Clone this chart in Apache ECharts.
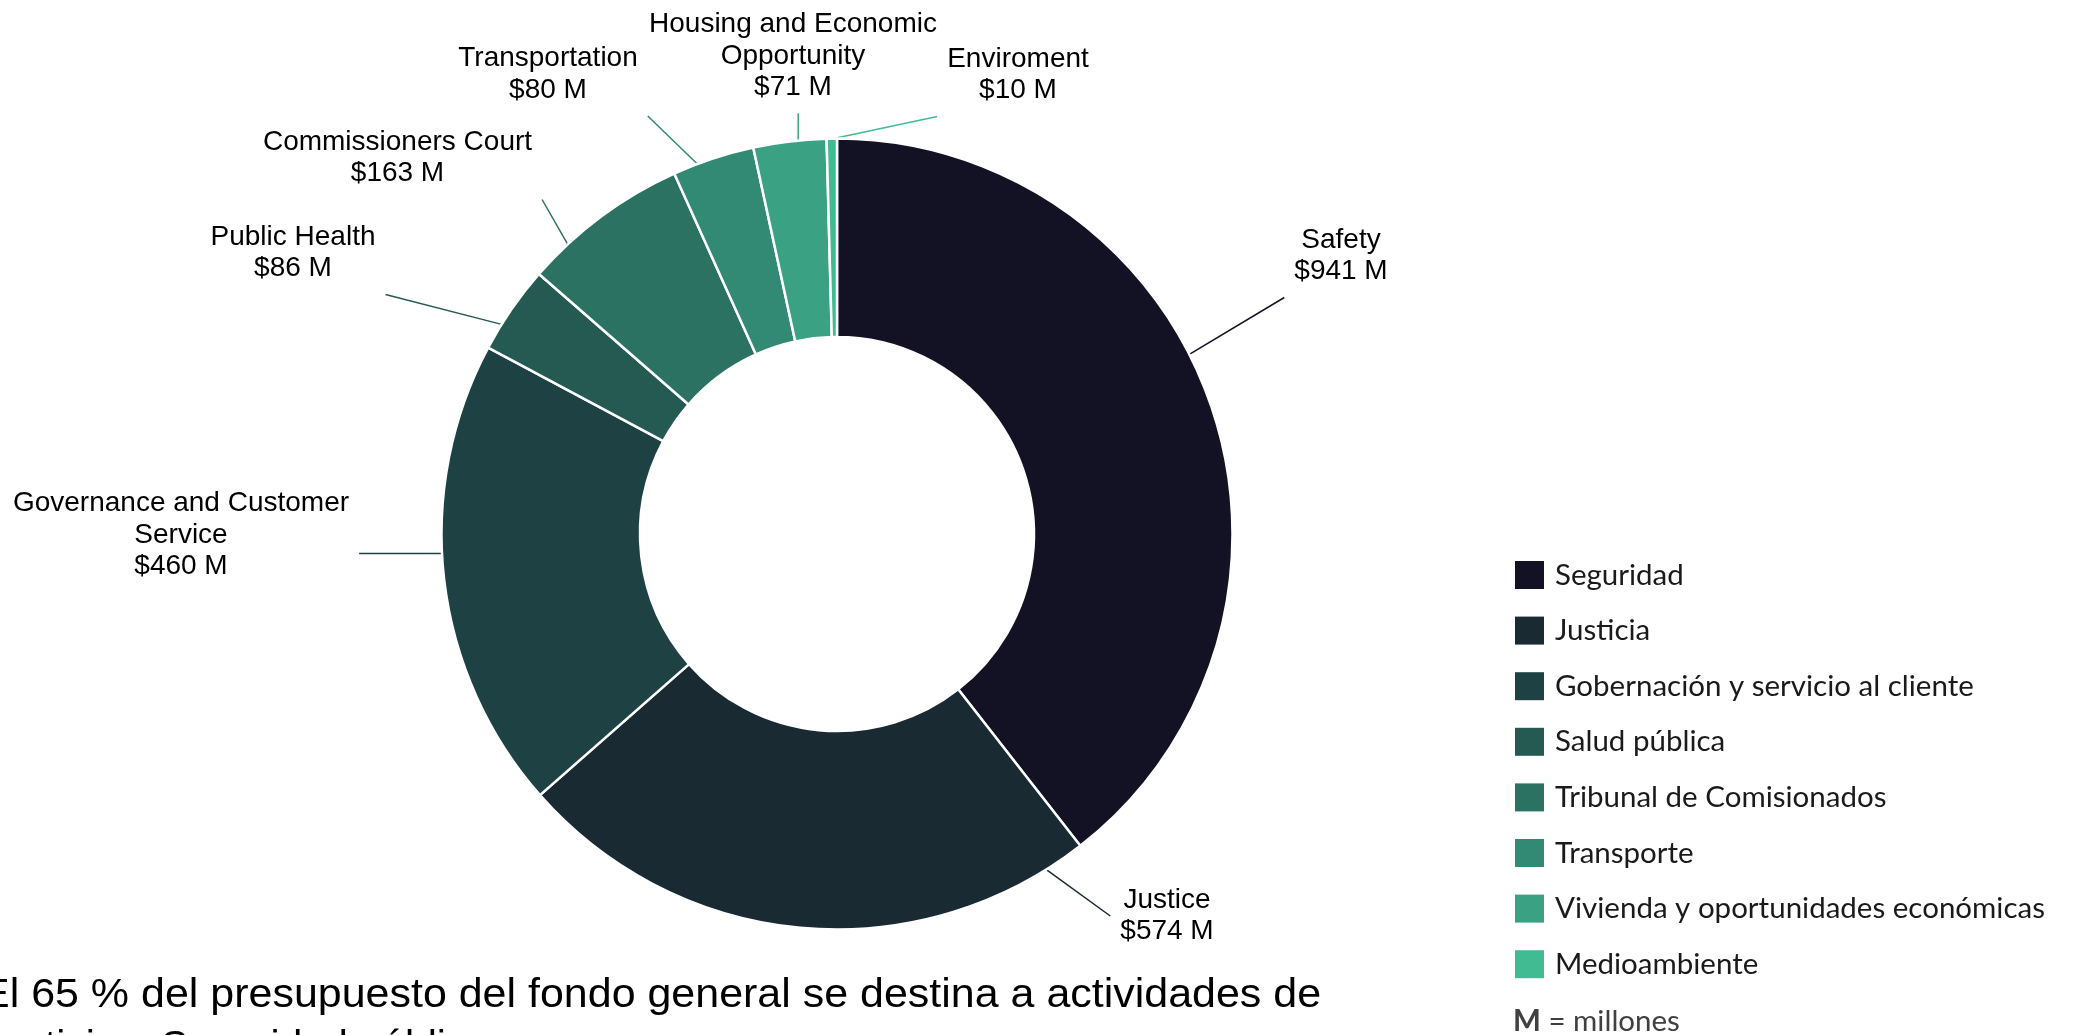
<!DOCTYPE html>
<html>
<head>
<meta charset="utf-8">
<script src="https://cdn.jsdelivr.net/npm/echarts@6/dist/echarts.min.js"></script>
<style>
html,body{margin:0;padding:0;background:#fff;}
#c{width:2075px;height:1035px;}
</style>
</head>
<body>
<div id="c"></div>
<script>
// ---- data ----
const legendNames = ['Seguridad', 'Justicia', 'Gobernación y servicio al cliente', 'Salud pública', 'Tribunal de Comisionados', 'Transporte', 'Vivienda y oportunidades económicas', 'Medioambiente'];
const labelNames = ['Safety', 'Justice', 'Governance and Customer\nService', 'Public Health', 'Commissioners Court', 'Transportation', 'Housing and Economic\nOpportunity', 'Enviroment'];
const values = [941, 574, 460, 86, 163, 80, 71, 10];
const unitNote = '{b|M}{n| = millones}';
const footnote1 = 'El 65 % del presupuesto del fondo general se destina a actividades de';
const footnote2 = 'Justicia y Seguridad pública';

// ---- styles / layout ----
const colors = ['#131224', '#192a33', '#1e4244', '#255a52', '#2b7262', '#328a74', '#3aa283', '#41bb91'];
const CX = 837, CY = 534, R_OUT = 395.5, R_IN = 197;
const labelAnchors = [[1341, 256], [1167, 916], [181, 535], [293, 253], [397.5, 158], [548, 74.5], [793, 56], [1018, 75]];

const total = values.reduce((a, b) => a + b, 0);
const starts = [];
(function () { let acc = 0; values.forEach(v => { starts.push(acc / total * 360); acc += v; }); })();

function angDist(x, y) { let t = Math.abs(x - y) % 360; return t > 180 ? 360 - t : t; }

function labelLayout(p) {
  const i = p.dataIndex;
  const lx = labelAnchors[i][0], ly = labelAnchors[i][1];
  const w = p.labelRect.width, h = p.labelRect.height, g = 10;
  const span = values[i] / total * 360;
  const a0 = starts[i], a1 = a0 + span;
  const m = Math.min(6, span * 0.3);
  // aim the leader at the lower part of the label, inside the slice's angular range
  let aL = Math.atan2(lx - CX, -(ly + h / 3 - CY)) * 180 / Math.PI;
  if (aL < 0) aL += 360;
  let a;
  if (aL >= a0 + m && aL <= a1 - m) a = aL;
  else a = angDist(aL, a0 + m) < angDist(aL, a1 - m) ? a0 + m : a1 - m;
  const rad = a * Math.PI / 180;
  const sx = CX + R_OUT * Math.sin(rad), sy = CY - R_OUT * Math.cos(rad);
  const ex = Math.min(Math.max(sx, lx - w / 2 - g), lx + w / 2 + g);
  const ey = Math.min(Math.max(sy, ly), ly + h / 2 + g);
  return { x: lx, y: ly, align: 'center', verticalAlign: 'middle', labelLinePoints: [[sx, sy], [ex, ey]] };
}

const chart = echarts.init(document.getElementById('c'), null, { renderer: 'canvas' });
chart.setOption({
  backgroundColor: '#ffffff',
  animation: false,
  legend: {
    orient: 'vertical',
    left: 1510,
    top: 555,
    icon: 'rect',
    itemWidth: 29,
    itemHeight: 28,
    itemGap: 25.6,
    selectedMode: false,
    itemStyle: { borderWidth: 0 },
    textStyle: { fontFamily: 'Lato', fontSize: 29.5, color: '#1a1a1a', lineHeight: 28, padding: [0, 0, 0, 6] },
    data: legendNames
  },
  series: [{
    type: 'pie',
    center: [CX, CY],
    radius: [R_IN, R_OUT],
    startAngle: 90,
    clockwise: true,
    avoidLabelOverlap: false,
    silent: true,
    itemStyle: { borderColor: '#ffffff', borderWidth: 2.5 },
    label: {
      show: true,
      position: 'outside',
      formatter: p => labelNames[p.dataIndex] + '\n$' + p.value + ' M',
      fontFamily: 'Liberation Sans, Arial, sans-serif',
      fontSize: 28,
      lineHeight: 31.5,
      color: '#000000',
      align: 'center'
    },
    labelLine: { show: true, length: 20, length2: 0, lineStyle: { width: 1.5 } },
    labelLayout: labelLayout,
    data: legendNames.map((n, i) => ({ name: n, value: values[i], itemStyle: { color: colors[i] } }))
  }],
  graphic: [
    { type: 'text', x: -19, y: 996, scaleX: 1.048, silent: true,
      style: { text: footnote1, fontFamily: 'Liberation Sans', fontSize: 41, fill: '#000000', verticalAlign: 'middle', align: 'left' } },
    { type: 'text', x: -19, y: 1048, silent: true,
      style: { text: footnote2, fontFamily: 'Liberation Sans', fontSize: 41, fill: '#000000', verticalAlign: 'middle', align: 'left' } },
    { type: 'text', x: 1513, y: 1021, silent: true,
      style: { text: unitNote, verticalAlign: 'middle', align: 'left',
        rich: {
          b: { fontFamily: 'Lato', fontSize: 29.5, fontWeight: 'bold', fill: '#404040', color: '#404040' },
          n: { fontFamily: 'Lato', fontSize: 29.5, fill: '#404040', color: '#404040' }
        } } }
  ]
});
</script>
</body>
</html>
